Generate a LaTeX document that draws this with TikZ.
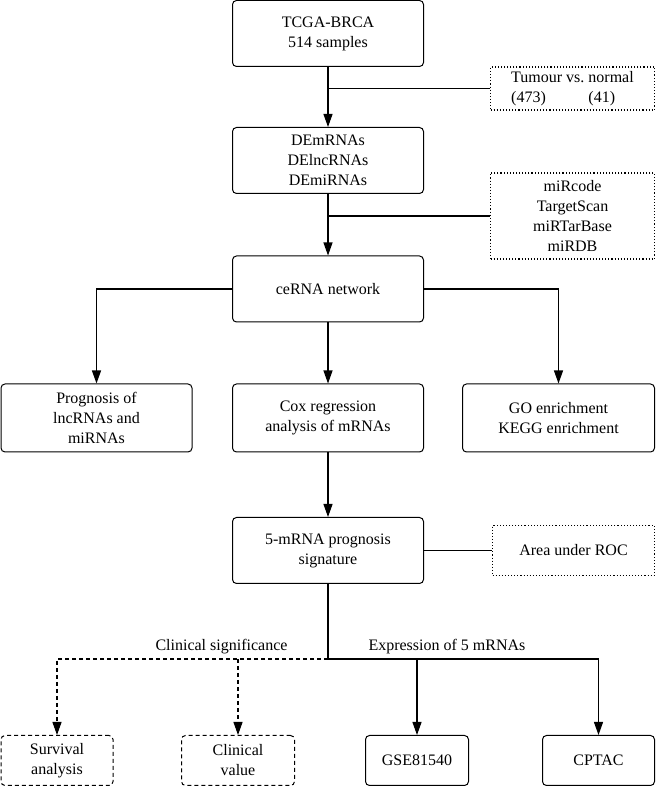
\documentclass[tikz,border=0pt]{standalone}
\usepackage{fontspec}
\setmainfont{Liberation Serif}
\usetikzlibrary{arrows.meta}

\begin{document}
\begin{tikzpicture}[x=1pt,y=1pt,
        box/.style={draw,rounded corners=4pt,line width=1pt,align=center,inner sep=0pt},
        side/.style={draw,dotted,line width=1.1pt,align=center,inner sep=0pt},
        opt/.style={box,dash pattern=on 4pt off 3pt},
        arr/.style={-{Triangle[length=13pt,width=9pt]},line width=1.1pt},
        link/.style={line width=1.1pt}]
    \useasboundingbox (0,0) rectangle (656,786);
    \begin{scope}[font=\fontsize{16}{20}\selectfont]

        \node [box,minimum width=191pt,minimum height=66pt] (tcga)  at (328,752.5) {TCGA-BRCA\\514 samples};
        \node [side,minimum width=164pt,minimum height=43pt] (tumour) at (572.5,697.5)
            {\begin{tabular}{@{}l@{\ }l@{}}Tumour vs. & normal\\(473) & (41)\end{tabular}};
        \node [box,minimum width=191pt,minimum height=66pt] (dem)   at (328,625.5) {DEmRNAs\\DElncRNAs\\DEmiRNAs};
        \node [side,minimum width=164pt,minimum height=86pt] (mirdb) at (572.5,570) {miRcode\\TargetScan\\miRTarBase\\miRDB};
        \node [box,minimum width=191pt,minimum height=66pt] (cerna) at (328,497) {ceRNA network};

        \node [box,minimum width=191pt,minimum height=68pt] (prog) at (96.5,368)  {Prognosis of\\lncRNAs and\\miRNAs};
        \node [box,minimum width=191pt,minimum height=68pt] (cox)  at (328,368)   {Cox regression\\analysis of mRNAs};
        \node [box,minimum width=192pt,minimum height=68pt] (go)   at (558.5,368) {GO enrichment\\KEGG enrichment};

        \node [box,minimum width=191pt,minimum height=66pt] (sig) at (328,235.5)   {5-mRNA prognosis\\signature};
        \node [side,minimum width=162pt,minimum height=50pt] (roc) at (573.5,235.5) {Area under ROC};

        \node [opt,minimum width=112pt,minimum height=50pt] (surv)  at (57,25.5)    {Survival\\analysis};
        \node [opt,minimum width=113pt,minimum height=50pt] (clin)  at (238,25.5)   {Clinical\\value};
        \node [box,minimum width=103pt,minimum height=50pt] (gse)   at (417,25.5)   {GSE81540};
        \node [box,minimum width=112pt,minimum height=50pt] (cptac) at (598.5,25.5) {CPTAC};

        \coordinate (split) at (328,127);

        \draw [arr] (tcga) -- (dem);
        \draw [link] (tumour.west) -- (tumour.west -| tcga.south);
        \draw [arr] (dem) -- (cerna);
        \draw [link] (mirdb.west) -- (mirdb.west -| dem.south);

        \draw [arr] (cerna.west) -| (prog.north);
        \draw [arr] (cerna) -- (cox);
        \draw [arr] (cerna.east) -| (go.north);
        \draw [arr] (cox) -- (sig);
        \draw [link] (sig.east) -- (roc.west);

        \draw [link] (sig.south) -- (split);
        \draw [arr,dash pattern=on 4pt off 3pt] (split) -| (surv.north);
        \draw [arr,dash pattern=on 4pt off 3pt] (split -| clin.north) -- (clin.north);
        \draw [arr] (split) -| (cptac.north);
        \draw [arr] (split -| gse.north) -- (gse.north);

        \node [anchor=south east] (clinlab) at ([xshift=-37pt,yshift=2pt]split) {Clinical significance};
        \node [anchor=south west] (exprlab) at ([xshift=37pt,yshift=2pt]split)  {Expression of 5 mRNAs};

    \end{scope}
\end{tikzpicture}
\end{document}
